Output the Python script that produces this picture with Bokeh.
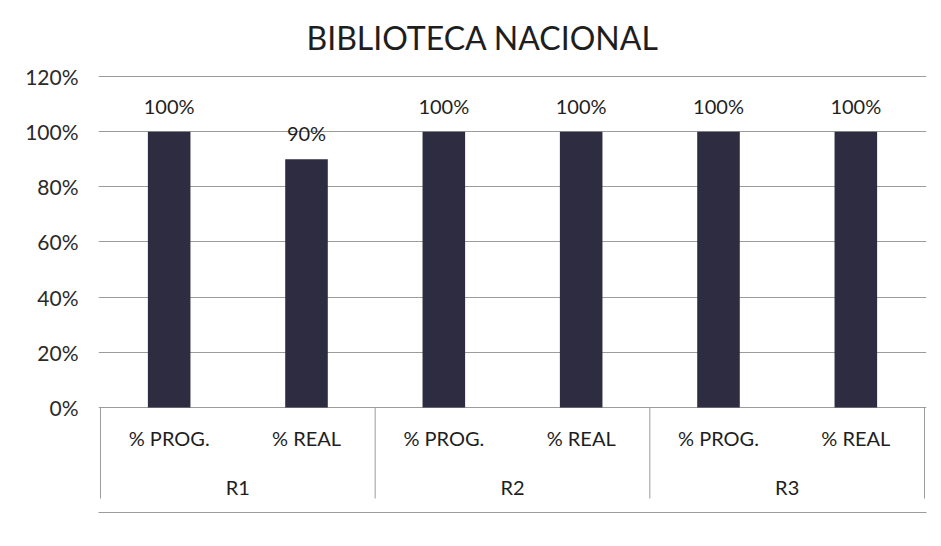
from bokeh.plotting import figure
from bokeh.models import (FactorRange, Range1d, FixedTicker, NumeralTickFormatter,
                          ColumnDataSource, BoxAnnotation)
from bokeh.core.properties import value
from bokeh.embed import file_html
from bokeh.resources import INLINE

# ---- data ----
groups = ["R1", "R2", "R3"]
subcats = ["% PROG.", "% REAL"]
values = [1.00, 0.90, 1.00, 1.00, 1.00, 1.00]
y_ticks = [0, 0.2, 0.4, 0.6, 0.8, 1.0, 1.2]
title_text = "BIBLIOTECA NACIONAL"

factors = [(g, s) for g in groups for s in subcats]
labels = [f"{v:.0%}" for v in values]

FONT = "Lato"
TXT = "#1e1e1e"
LINE = "#9c9c9c"
BAR = "#2e2c40"

src = ColumnDataSource(dict(x=factors, top=values, lab=labels,
                            sub=[f[1] for f in factors]))

y_end = 1.2 + 2 / 275.8
y_start = -0.388

p = figure(width=941, height=546,
           x_range=FactorRange(*factors, factor_padding=0, group_padding=0,
                               subgroup_padding=0, range_padding=0.00485),
           y_range=Range1d(y_start, y_end),
           output_backend="svg", toolbar_location=None, x_axis_location=None,
           min_border_left=98, min_border_right=15, min_border_top=74,
           min_border_bottom=32)

p.title.text = title_text
p.title.text_font = FONT
p.title.text_font_size = "32px"
p.title.text_font_style = "normal"
p.title.text_color = TXT
p.title.align = "left"
p.title.offset = 208
p.title.standoff = 32
p.title.vertical_align = "top"

p.outline_line_color = None
p.xgrid.visible = False
p.ygrid.ticker = FixedTicker(ticks=y_ticks)
p.ygrid.grid_line_color = LINE
p.ygrid.grid_line_width = 1

ax = p.yaxis[0]
ax.ticker = FixedTicker(ticks=y_ticks)
ax.formatter = NumeralTickFormatter(format="0%")
ax.axis_line_color = None
ax.major_tick_line_color = None
ax.minor_tick_line_color = None
ax.major_tick_out = 0
ax.major_tick_in = 0
ax.major_label_standoff = 20
ax.major_label_text_font = FONT
ax.major_label_text_font_size = "21px"
ax.major_label_text_color = "#2a2a2a"

# bars
p.vbar(x="x", top="top", width=0.31, source=src, fill_color=BAR, line_color=None)

# value labels
p.text(x="x", y="top", text="lab", source=src, text_align="center",
       text_baseline="alphabetic", y_offset=-26, text_font=value(FONT),
       text_font_size="20px", text_color=TXT)

# category table
bounds = [i * len(subcats) for i in range(len(groups) + 1)]
p.segment(x0=bounds, y0=[0] * len(bounds), x1=bounds, y1=[-0.33] * len(bounds),
          line_color=LINE, line_width=1)

p.text(x="x", y=-0.112, text="sub", source=src, text_align="center",
       text_baseline="middle", text_font=value(FONT), text_font_size="20px",
       text_color=TXT)
p.text(x=groups, y=[-0.29] * len(groups), text=groups, text_align="center",
       text_baseline="middle", text_font=value(FONT), text_font_size="20px",
       text_color=TXT)

# bottom rule of the chart area (canvas units)
p.add_layout(BoxAnnotation(left=4, right=937, top=511.5, bottom=512.5,
                           left_units="canvas", right_units="canvas",
                           top_units="canvas", bottom_units="canvas",
                           fill_color=LINE, fill_alpha=1, line_color=None))

open("out.html", "w").write(file_html(p, INLINE))
